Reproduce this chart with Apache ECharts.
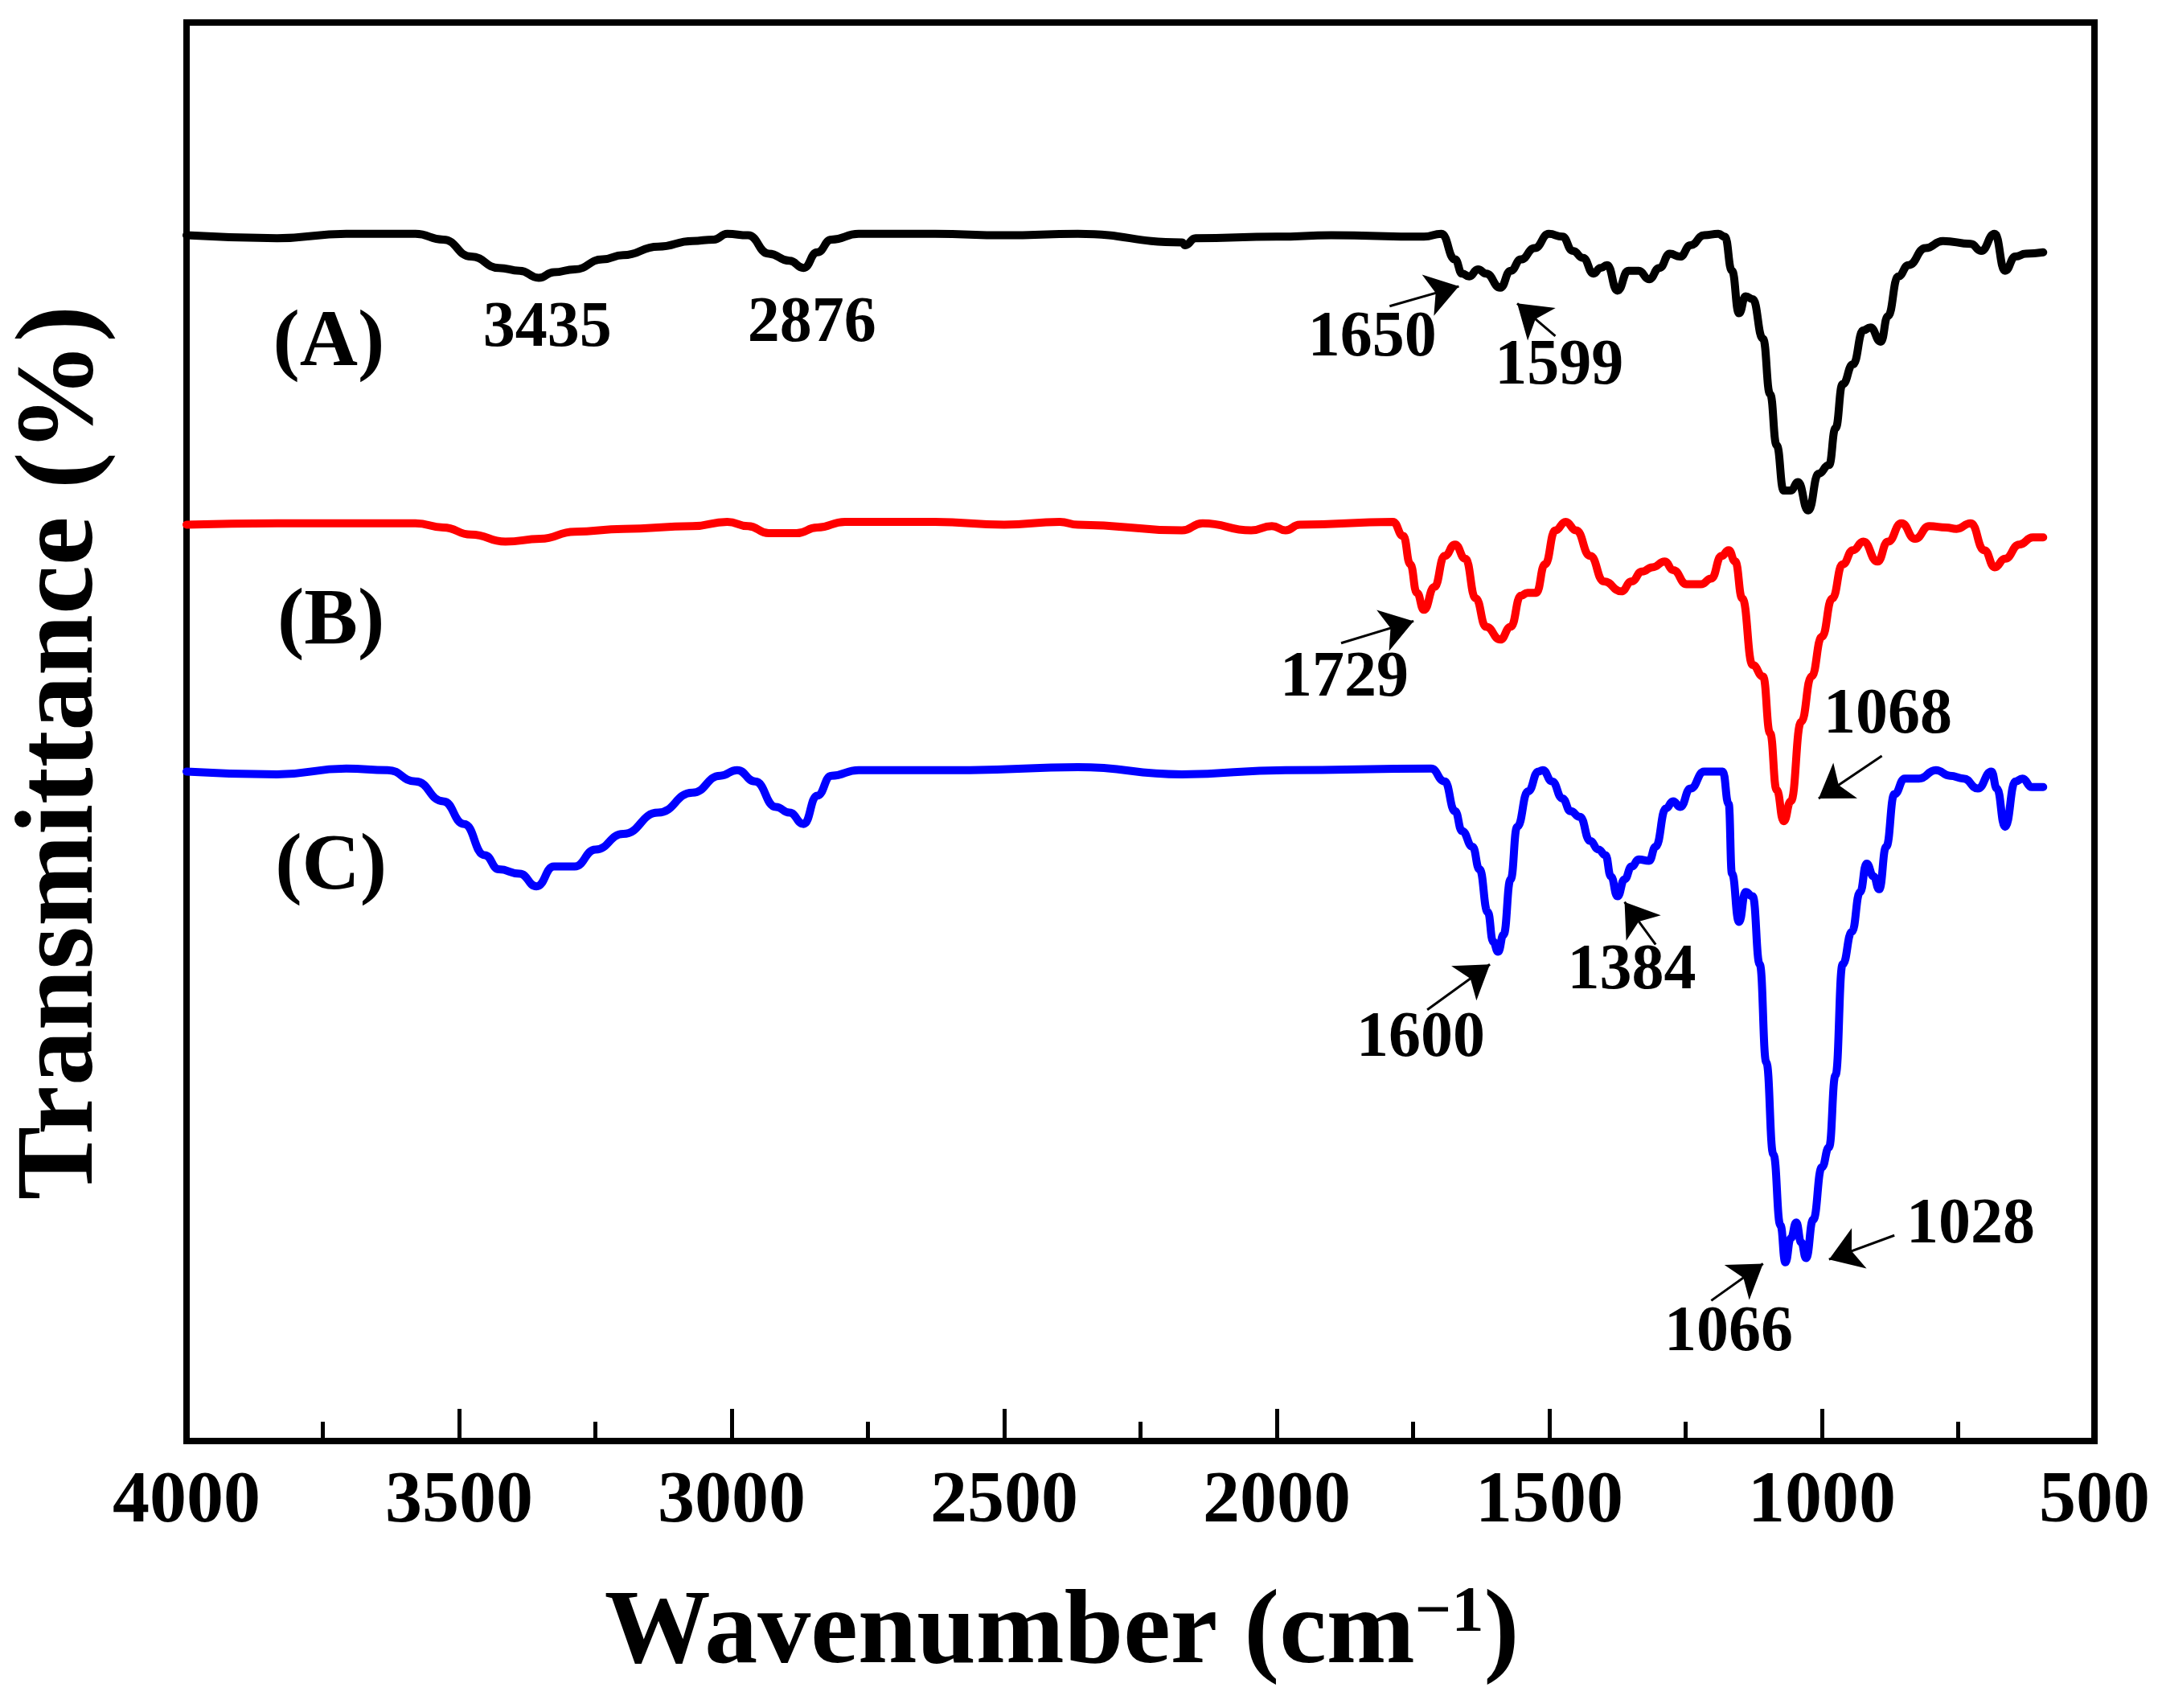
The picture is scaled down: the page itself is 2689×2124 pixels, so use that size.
<!DOCTYPE html>
<html>
<head>
<meta charset="utf-8">
<title>FTIR</title>
<script src="https://cdn.jsdelivr.net/npm/echarts@6/dist/echarts.min.js"></script>
<style>
html, body { margin: 0; padding: 0; background: #fff; }
#chart { width: 2689px; height: 2124px; }
</style>
</head>
<body>
<div id="chart"></div>
<script>
// spectrum (A) black: [wavenumber, transmittance]
var curveA = [[4000,85.0],[3834,84.8],[3707,85.1],[3580,85.1],[3529,84.7],[3478,83.5],[3427,82.7],[3389,82.5],[3354,82.0],[3326,82.4],[3288,82.6],[3237,83.3],[3199,83.6],[3135,84.2],[3072,84.6],[3033,84.7],[3008,85.1],[2970,85.0],[2932,83.7],[2894,83.2],[2868,82.7],[2843,83.8],[2817,84.7],[2767,85.1],[2627,85.1],[2500,85.0],[2365,85.1],[2174,84.5],[2168,84.3],[2149,84.8],[2000,84.9],[1900,85.0],[1730,84.9],[1698,85.1],[1673,83.3],[1660,82.3],[1647,82.1],[1631,82.6],[1616,82.3],[1590,81.3],[1571,82.5],[1552,83.3],[1527,84.1],[1501,85.1],[1476,84.9],[1457,83.9],[1438,83.4],[1419,82.3],[1406,82.7],[1394,82.9],[1375,81.1],[1355,82.5],[1336,82.5],[1317,81.9],[1298,82.7],[1279,83.7],[1260,83.5],[1241,84.3],[1216,85.0],[1190,85.1],[1178,84.9],[1165,82.5],[1152,79.5],[1140,80.7],[1127,80.5],[1108,77.7],[1095,73.8],[1083,70.2],[1070,67.0],[1057,67.0],[1044,67.6],[1025,65.6],[1006,68.2],[987,68.8],[975,71.4],[962,74.5],[943,75.9],[924,78.3],[911,78.5],[892,77.5],[879,79.3],[860,82.1],[841,82.9],[810,84.1],[778,84.6],[727,84.4],[708,83.9],[683,85.1],[664,82.5],[645,83.5],[626,83.7],[594,83.8]];
// spectrum (B) red
var curveB = [[4000,64.6],[3834,64.7],[3580,64.7],[3529,64.4],[3478,63.9],[3415,63.4],[3351,63.6],[3288,64.1],[3199,64.3],[3072,64.5],[3008,64.8],[2970,64.5],[2932,64.0],[2881,64.0],[2843,64.4],[2792,64.8],[2627,64.8],[2500,64.6],[2398,64.8],[2365,64.6],[2174,64.2],[2136,64.7],[2047,64.2],[2009,64.5],[1984,64.2],[1958,64.6],[1787,64.8],[1768,63.8],[1755,61.8],[1743,59.8],[1730,58.6],[1711,60.2],[1692,62.4],[1673,63.2],[1654,62.2],[1635,59.4],[1616,57.4],[1590,56.5],[1571,57.4],[1552,59.6],[1540,59.8],[1524,59.8],[1508,61.8],[1489,64.2],[1470,64.8],[1451,64.2],[1425,62.4],[1400,60.6],[1368,59.9],[1349,60.6],[1330,61.3],[1311,61.6],[1288,62.0],[1273,61.4],[1248,60.4],[1222,60.4],[1203,60.8],[1184,62.4],[1171,62.8],[1159,62.0],[1146,59.4],[1127,54.7],[1108,53.9],[1095,49.9],[1083,45.9],[1070,43.7],[1057,45.1],[1038,50.7],[1019,53.9],[1000,56.7],[981,59.4],[962,61.8],[943,62.8],[924,63.4],[898,62.0],[879,63.4],[854,64.7],[829,63.6],[803,64.5],[772,64.4],[753,64.3],[727,64.7],[702,62.8],[683,61.6],[664,62.2],[638,63.2],[613,63.7],[594,63.7]];
// spectrum (C) blue
var curveC = [[4000,47.2],[3834,47.0],[3707,47.4],[3631,47.3],[3580,46.5],[3529,45.1],[3491,43.5],[3453,41.3],[3427,40.3],[3389,40.0],[3358,39.1],[3326,40.5],[3288,40.5],[3250,41.7],[3199,42.8],[3135,44.3],[3072,45.7],[3021,46.9],[2990,47.3],[2957,46.5],[2919,44.7],[2894,44.3],[2868,43.5],[2843,45.5],[2817,46.9],[2767,47.3],[2563,47.3],[2365,47.5],[2174,47.0],[1984,47.3],[1717,47.4],[1692,46.5],[1673,44.4],[1660,43.0],[1641,41.9],[1628,40.3],[1613,37.3],[1603,35.2],[1594,34.5],[1584,35.7],[1571,39.6],[1559,43.3],[1539,45.8],[1520,47.2],[1512,47.3],[1495,46.5],[1476,45.3],[1461,44.4],[1444,44.0],[1425,42.3],[1410,41.7],[1397,41.3],[1387,39.8],[1375,38.4],[1362,39.6],[1349,40.5],[1336,41.0],[1317,40.9],[1305,41.9],[1286,44.6],[1273,45.1],[1260,44.7],[1241,46.0],[1216,47.2],[1197,47.2],[1182,47.2],[1171,44.9],[1165,40.0],[1152,36.6],[1140,38.7],[1127,38.4],[1114,33.6],[1102,26.7],[1089,20.2],[1076,15.2],[1067,12.6],[1057,14.3],[1047,15.4],[1038,14.0],[1029,12.9],[1016,15.6],[1000,19.3],[987,20.7],[975,25.8],[962,33.6],[945,35.9],[930,38.7],[918,40.7],[905,39.8],[895,38.9],[882,41.9],[867,45.6],[848,46.7],[822,46.7],[791,47.3],[765,46.9],[740,46.7],[714,46.0],[689,47.2],[679,46.0],[664,43.3],[645,46.5],[632,46.7],[615,46.1],[594,46.1]];

var curveNames = ['(A)', '(B)', '(C)'];
var curveNamePos = [[3739,77.3],[3735,57.7],[3735,40.4]];

var peakText = ['3435','2876','1650','1599','1729','1068','1600','1384','1066','1028'];
var peakTextPos = [[3338,78.4],[2853,78.7],[1825,77.7],[1482,75.7],[1876,53.7],[879,51.1],[1736,28.3],[1349,33.1],[1171,7.6],[727,15.2]];

var arrowFrom = [[1793,80.0],[1489,77.9],[1882,56.25],[890,48.3],[1724,30.4],[1305,35.0],[1203,9.9],[867,14.5]];
var arrowTo   = [[1666,81.4],[1559,80.2],[1749,57.8],[1006,45.3],[1609,33.6],[1362,38.0],[1108,12.5],[987,12.8]];

var xTicks = { min: 500, max: 4000, step: 500 };
var colors = ['#000000', '#ff0000', '#0000ff'];

var FONT = "'Liberation Serif', 'Times New Roman', serif";

var myChart = echarts.init(document.getElementById('chart'));

function spectrum(data, color) {
	return {
		type: 'line',
		data: data,
		symbol: 'none',
		smooth: 0.5,
		smoothMonotone: 'x',
		lineStyle: { color: color, width: 10, join: 'round', cap: 'round' },
		silent: true,
		z: 3
	};
}

function textLabel(size, names) {
	return {
		show: true, position: 'inside', color: '#000', opacity: 1,
		textBorderWidth: 0, textBorderColor: 'transparent',
		fontFamily: FONT, fontWeight: 'bold', fontSize: size,
		formatter: function (p) { return names[p.dataIndex]; }
	};
}

var option = {
	animation: false,
	backgroundColor: '#fff',
	grid: {
		left: 232, right: 84, top: 28, bottom: 332,
		show: true, borderColor: '#000', borderWidth: 8, backgroundColor: 'transparent'
	},
	xAxis: {
		type: 'value',
		inverse: true,
		min: xTicks.min,
		max: xTicks.max,
		interval: xTicks.step,
		axisLine: { show: true, lineStyle: { color: '#000', width: 8 } },
		axisTick: { show: true, inside: true, length: 40, lineStyle: { color: '#000', width: 5 } },
		minorTick: { show: true, splitNumber: 2, length: 24, lineStyle: { color: '#000', width: 5 } },
		splitLine: { show: false },
		axisLabel: {
			color: '#000', fontFamily: FONT, fontWeight: 'bold', fontSize: 92, margin: 30,
			formatter: function (v) { return String(v); }
		},
		name: '{t|Wavenumber (cm}{s|\u22121}{t|)}',
		nameLocation: 'middle',
		nameGap: 175,
		nameTextStyle: {
			padding: [0, 196, 0, 0],
			rich: {
				t: { fontFamily: FONT, fontWeight: 'bold', fontSize: 132, color: '#000' },
				s: { fontFamily: FONT, fontWeight: 'bold', fontSize: 80, color: '#000', verticalAlign: 'top' }
			}
		}
	},
	yAxis: {
		type: 'value',
		min: 0,
		max: 100,
		axisLine: { show: false },
		axisTick: { show: false },
		axisLabel: { show: false },
		splitLine: { show: false },
		name: 'Transmittance (%)',
		nameLocation: 'middle',
		nameRotate: 90,
		nameGap: 85,
		nameTextStyle: { fontFamily: FONT, fontWeight: 'bold', fontSize: 137, color: '#000', padding: [0, 52, 0, 0] }
	},
	series: [
		spectrum(curveA, colors[0]),
		spectrum(curveB, colors[1]),
		spectrum(curveC, colors[2]),
		{
			// curve names
			type: 'scatter',
			data: curveNamePos,
			symbolSize: 1,
			itemStyle: { color: 'transparent', opacity: 1 },
			silent: true,
			label: textLabel(100, curveNames),
			z: 5
		},
		{
			// peak labels + arrows
			type: 'scatter',
			data: peakTextPos,
			symbolSize: 1,
			itemStyle: { color: 'transparent', opacity: 1 },
			silent: true,
			label: textLabel(80, peakText),
			markLine: {
				silent: true,
				symbol: ['none', 'arrow'],
				symbolSize: 40,
				label: { show: false },
				lineStyle: { color: '#000', width: 3, type: 'solid', opacity: 1 },
				emphasis: { disabled: true },
				data: arrowFrom.map(function (f, i) {
					return [{ coord: f }, { coord: arrowTo[i] }];
				})
			},
			z: 5
		}
	]
};
myChart.setOption(option);
</script>
</body>
</html>
